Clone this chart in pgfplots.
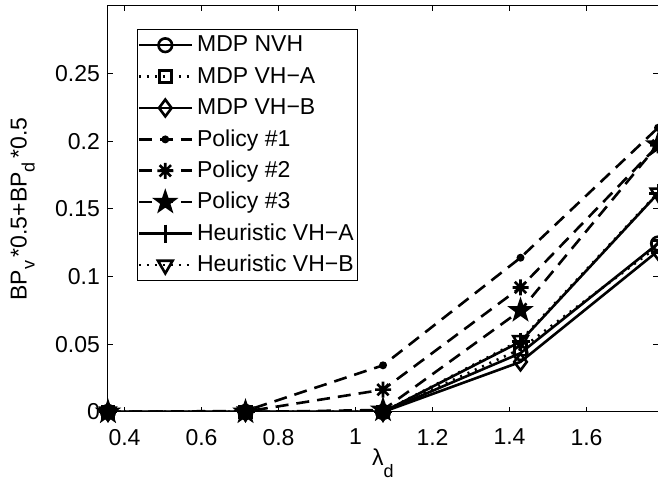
\documentclass[border=0pt]{standalone}
\usepackage{fontspec}
\setmainfont{Liberation Sans}
\usepackage{pgfplots}
\pgfplotsset{compat=1.18}

% filled five-point star (matlab pentagram)
\pgfdeclareplotmark{pstar}{%
  \pgfpathmoveto{\pgfpointpolar{90}{1.4\pgfplotmarksize}}%
  \pgfpathlineto{\pgfpointpolar{126}{0.55\pgfplotmarksize}}%
  \pgfpathlineto{\pgfpointpolar{162}{1.4\pgfplotmarksize}}%
  \pgfpathlineto{\pgfpointpolar{198}{0.55\pgfplotmarksize}}%
  \pgfpathlineto{\pgfpointpolar{234}{1.4\pgfplotmarksize}}%
  \pgfpathlineto{\pgfpointpolar{270}{0.55\pgfplotmarksize}}%
  \pgfpathlineto{\pgfpointpolar{306}{1.4\pgfplotmarksize}}%
  \pgfpathlineto{\pgfpointpolar{342}{0.55\pgfplotmarksize}}%
  \pgfpathlineto{\pgfpointpolar{18}{1.4\pgfplotmarksize}}%
  \pgfpathlineto{\pgfpointpolar{54}{0.55\pgfplotmarksize}}%
  \pgfpathclose
  \pgfusepathqfillstroke
}
% eight-spoke asterisk
\pgfdeclareplotmark{ast8}{%
  \pgfpathmoveto{\pgfpointpolar{0}{\pgfplotmarksize}}\pgfpathlineto{\pgfpointpolar{180}{\pgfplotmarksize}}%
  \pgfpathmoveto{\pgfpointpolar{90}{\pgfplotmarksize}}\pgfpathlineto{\pgfpointpolar{270}{\pgfplotmarksize}}%
  \pgfpathmoveto{\pgfpointpolar{45}{\pgfplotmarksize}}\pgfpathlineto{\pgfpointpolar{225}{\pgfplotmarksize}}%
  \pgfpathmoveto{\pgfpointpolar{135}{\pgfplotmarksize}}\pgfpathlineto{\pgfpointpolar{315}{\pgfplotmarksize}}%
  \pgfusepathqstroke
}

\begin{document}
\fontsize{11.5}{13.8}\selectfont
\begin{tikzpicture}
\begin{axis}[
  scale only axis,
  width=275pt, height=203pt,
  xmin=0.357143, xmax=1.785714,
  ymin=0, ymax=0.3,
  xtick={0.4,0.6,0.8,1,1.2,1.4,1.6},
  ytick={0,0.05,0.1,0.15,0.2,0.25},
  scaled ticks=false,
  tick align=inside,
  major tick length=2.5pt,
  every tick/.style={black, line width=0.5pt},
  axis line style={line width=0.5pt},
  tick label style={font=\fontsize{11.5}{13.8}\selectfont, /pgf/number format/assume math mode=true},
  yticklabel style={/pgf/number format/fixed, /pgf/number format/precision=2},
  xticklabel style={/pgf/number format/fixed, yshift=-4.5pt},
  xlabel={λ\raisebox{-6pt}{\fontsize{9}{9}\selectfont d}},
  xlabel style={at={(axis description cs:0.5,0)}, anchor=north, inner sep=0pt, yshift=-18pt},
  ylabel={BP\raisebox{-4pt}{\fontsize{9}{9}\selectfont v}\,*0.5+BP\raisebox{-4pt}{\fontsize{9}{9}\selectfont d}\,*0.5},
  ylabel style={at={(axis description cs:-0.155,0.5)}, anchor=center},
  legend cell align={left},
  legend style={at={(0,1)}, anchor=north west, xshift=14.5pt, yshift=-11.5pt,
    draw=black, line width=0.5pt, fill=white, inner sep=0pt, row sep=0pt,
    font=\fontsize{11.5}{13.8}\selectfont,
    nodes={inner xsep=2pt, inner ysep=0pt, text height=11.2pt, text depth=4.5pt}},
  legend image code/.code={\draw[mark repeat=2, mark phase=2, #1] plot coordinates {(0pt,0pt) (13.25pt,0pt) (26.5pt,0pt)};},
]
\coordinate (ll) at (rel axis cs:0,0);
\coordinate (ur) at (rel axis cs:1,1);

\addplot[black, line width=1.3pt, mark=o, mark size=3.4pt] coordinates {
(0.357143,0) (0.714286,0) (1.071429,0) (1.428571,0.0435) (1.785714,0.1245)};
\addlegendentry{MDP NVH}
\addplot[black, line width=1.3pt, dash pattern=on 1pt off 3pt, mark=square, mark size=3pt, mark options={solid}] coordinates {
(0.357143,0) (0.714286,0) (1.071429,0) (1.428571,0.0465) (1.785714,0.1225)};
\addlegendentry{MDP VH−A}
\addplot[black, line width=1.3pt, mark=diamond, mark size=4.2pt] coordinates {
(0.357143,0) (0.714286,0) (1.071429,0) (1.428571,0.0370) (1.785714,0.1190)};
\addlegendentry{MDP VH−B}
\addplot[black, line width=1.3pt, dash pattern=on 6.5pt off 4pt, mark=*, mark size=1.3pt, mark options={solid}] coordinates {
(0.357143,0) (0.714286,0.0008) (1.071429,0.0345) (1.428571,0.1140) (1.785714,0.2100)};
\addlegendentry{Policy \#1}
\addplot[black, line width=1.3pt, dash pattern=on 6.5pt off 4pt, mark=ast8, mark size=4pt, mark options={solid}] coordinates {
(0.357143,0) (0.714286,0.0003) (1.071429,0.0165) (1.428571,0.0920) (1.785714,0.1970)};
\addlegendentry{Policy \#2}
\addplot[black, line width=1.3pt, dash pattern=on 6.5pt off 4pt, mark=pstar, mark size=3.5pt, mark options={solid}] coordinates {
(0.357143,0) (0.714286,0) (1.071429,0.0015) (1.428571,0.0750) (1.785714,0.1975)};
\addlegendentry{Policy \#3}
\addplot[black, line width=1.3pt, mark=+, mark size=4.5pt] coordinates {
(0.357143,0) (0.714286,0) (1.071429,0) (1.428571,0.0520) (1.785714,0.1615)};
\addlegendentry{Heuristic VH−A}
\addplot[black, line width=1.3pt, dash pattern=on 1pt off 3pt, mark=triangle, mark size=4.2pt, mark options={solid, rotate=180}] coordinates {
(0.357143,0) (0.714286,0) (1.071429,0) (1.428571,0.0530) (1.785714,0.1620)};
\addlegendentry{Heuristic VH−B}
\end{axis}
\pgfresetboundingbox
\path ([xshift=-54pt, yshift=-34.5pt]ll) rectangle ([yshift=3pt]ur);
\end{tikzpicture}
\end{document}
